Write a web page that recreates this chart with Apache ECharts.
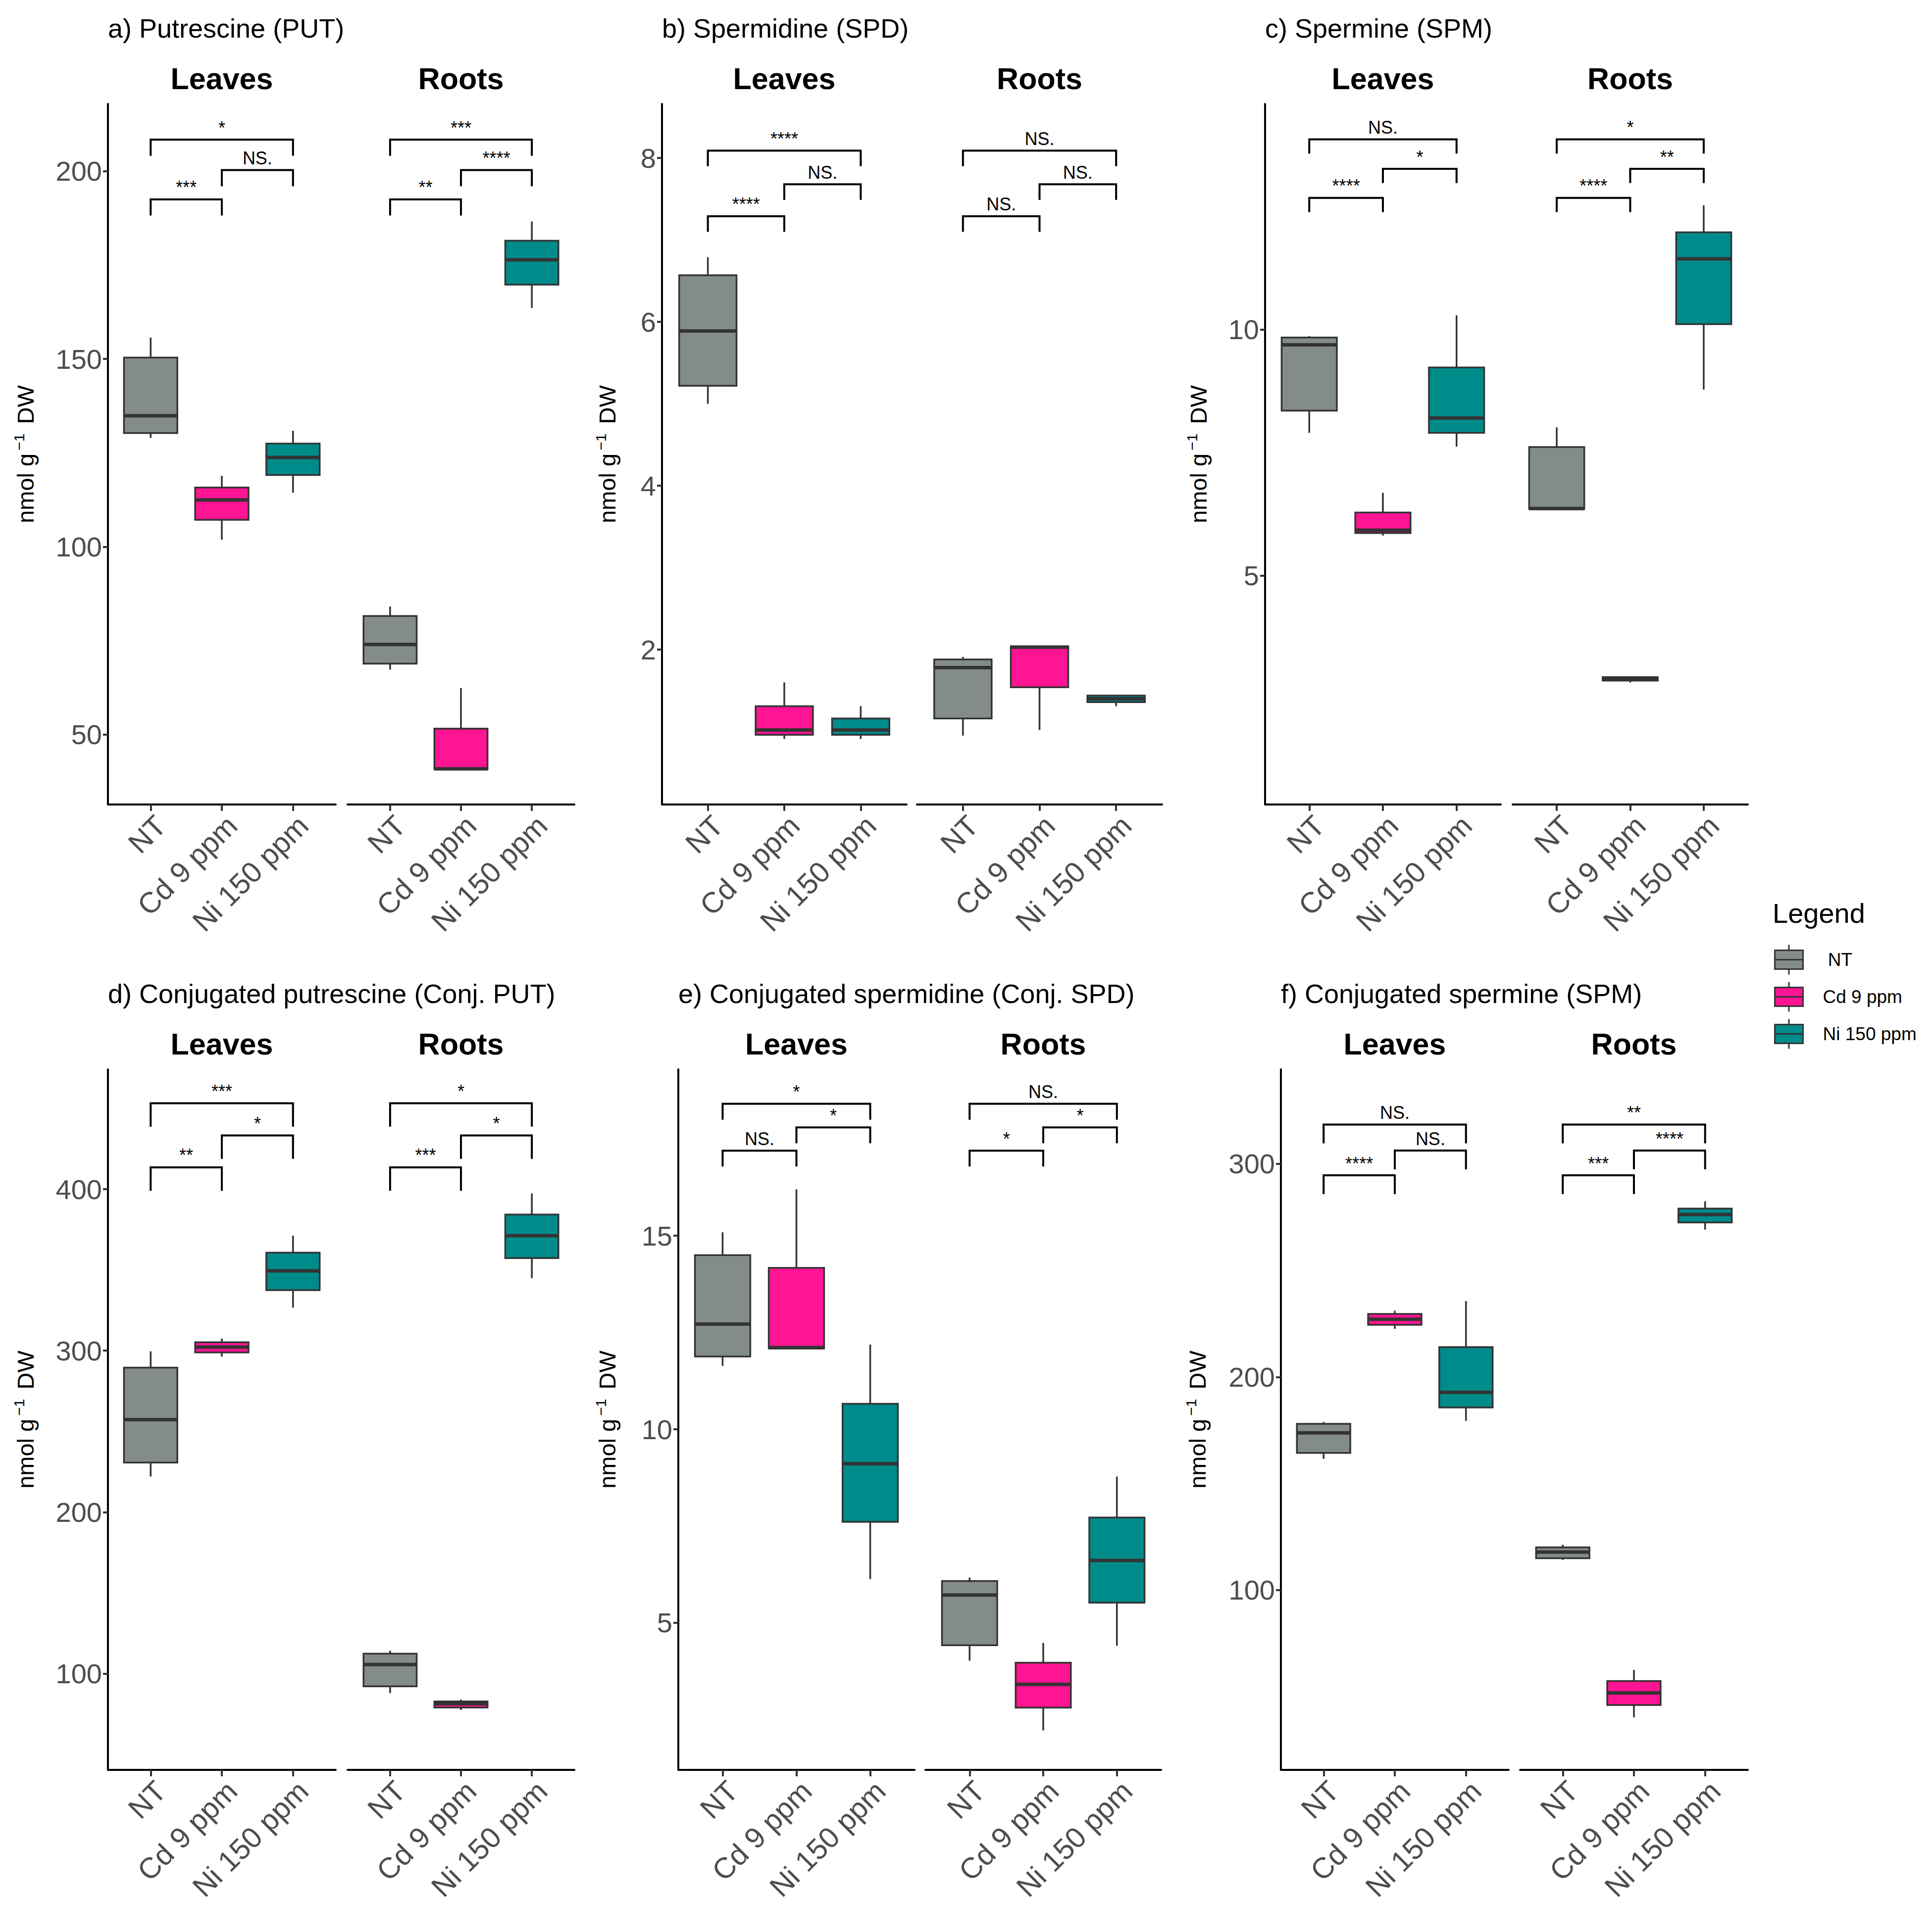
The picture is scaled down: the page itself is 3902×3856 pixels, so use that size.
<!DOCTYPE html>
<html><head><meta charset="utf-8">
<script src="https://cdn.jsdelivr.net/npm/echarts@6/dist/echarts.min.js"></script>
<style>html,body{margin:0;padding:0;background:#fff}#c{width:3902px;height:3856px}</style>
</head><body><div id="c"></div>
<script>
// ---------- DATA ----------
const treatments = ['NT', 'Cd 9 ppm', 'Ni 150 ppm'];
const tissues = ['Leaves', 'Roots'];
const treatmentColors = ['#838B8B', '#FF1493', '#008B8B'];
// five-number summaries [min, Q1, median, Q3, max] per treatment (NT, Cd, Ni)
const putLeaves  = [[129.0, 130.3, 134.9, 150.4, 155.7], [101.9, 107.2, 112.5, 115.8, 118.9], [114.4, 119.1, 123.8, 127.5, 130.9]];
const putRoots   = [[67.3, 68.9, 74.0, 81.6, 84.1], [40.8, 40.8, 40.9, 51.6, 62.4], [163.6, 169.8, 176.4, 181.5, 186.6]];
const spdLeaves  = [[5.00, 5.22, 5.89, 6.57, 6.79], [0.91, 0.96, 1.02, 1.31, 1.60], [0.91, 0.96, 1.02, 1.16, 1.31]];
const spdRoots   = [[0.95, 1.16, 1.78, 1.88, 1.91], [1.02, 1.54, 2.03, 2.04, 2.04], [1.31, 1.36, 1.40, 1.44, 1.45]];
const spmLeaves  = [[7.90, 8.35, 9.69, 9.84, 9.87], [5.81, 5.86, 5.92, 6.28, 6.68], [7.62, 7.90, 8.20, 9.23, 10.29]];
const spmRoots   = [[6.35, 6.35, 6.36, 7.61, 8.01], [2.82, 2.86, 2.90, 2.93, 2.95], [8.78, 10.11, 11.44, 11.98, 12.53]];
const cputLeaves = [[222.1, 230.7, 257.3, 289.5, 299.6], [296.3, 298.9, 302.2, 305.2, 307.5], [326.6, 337.5, 349.4, 360.7, 371.2]];
const cputRoots  = [[88.0, 92.1, 105.6, 112.4, 114.2], [77.5, 79.0, 81.3, 82.8, 83.9], [344.9, 357.3, 371.2, 384.3, 397.4]];
const cspdLeaves = [[11.64, 11.88, 12.72, 14.50, 15.09], [12.09, 12.09, 12.11, 14.17, 16.20], [6.13, 7.61, 9.11, 10.66, 12.19]];
const cspdRoots  = [[4.02, 4.42, 5.72, 6.08, 6.17], [2.22, 2.81, 3.41, 3.97, 4.48], [4.41, 5.52, 6.61, 7.72, 8.78]];
const cspmLeaves = [[161.6, 164.4, 173.8, 178.0, 178.9], [222.6, 224.5, 227.1, 229.6, 231.1], [179.4, 185.7, 192.8, 214.0, 235.6]];
const cspmRoots  = [[114.2, 115.0, 117.9, 120.1, 121.3], [40.4, 46.1, 51.8, 57.4, 62.6], [269.1, 272.5, 276.2, 279.0, 282.4]];

// y tick labels
const putTicks = [50, 100, 150, 200];
const spdTicks = [2, 4, 6, 8];
const spmTicks = [5, 10];
const cputTicks = [100, 200, 300, 400];
const cspdTicks = [5, 10, 15];
const cspmTicks = [100, 200, 300];

// significance brackets: pairs (NT–Cd, Cd–Ni, NT–Ni), labels and bracket heights
const pairs = [[1, 2], [2, 3], [1, 3]];
const putSigLeaves = ['***', 'NS.', '*'],   putSigRoots = ['**', '****', '***'];
const spdSigLeaves = ['****', 'NS.', '****'], spdSigRoots = ['NS.', 'NS.', 'NS.'];
const spmSigLeaves = ['****', '*', 'NS.'],  spmSigRoots = ['****', '**', '*'];
const cputSigLeaves = ['**', '*', '***'],   cputSigRoots = ['***', '*', '*'];
const cspdSigLeaves = ['NS.', '*', '*'],    cspdSigRoots = ['*', '*', 'NS.'];
const cspmSigLeaves = ['****', 'NS.', 'NS.'], cspmSigRoots = ['***', '****', '**'];
const putBracketY = [192.5, 200.3, 208.4],  putTip = 4.3;
const spdBracketY = [7.29, 7.68, 8.09],     spdTip = 0.19;
const spmBracketY = [12.68, 13.27, 13.87],  spmTip = 0.29;
const cputBracketY = [413.5, 433.3, 453.2], cputTip = 14.5;
const cspdBracketY = [17.2, 17.8, 18.41],   cspdTip = 0.41;
const cspmBracketY = [294.6, 306.2, 318.4], cspmTip = 8.8;

// ---------- LAYOUT ----------
const FONT = '"Liberation Sans", Arial, Helvetica, sans-serif';
const rowTop = [210, 2160], rowH = 1415;
const panels = [
  {title: 'a) Putrescine (PUT)', data: [putLeaves, putRoots], sig: [putSigLeaves, putSigRoots], by: putBracketY, tip: putTip, ticks: putTicks, yMin: 31.4, yMax: 217.9, row: 0, facets: [[218, 460], [702, 458]], nameGap: 139},
  {title: 'b) Spermidine (SPD)', data: [spdLeaves, spdRoots], sig: [spdSigLeaves, spdSigRoots], by: spdBracketY, tip: spdTip, ticks: spdTicks, yMin: 0.11, yMax: 8.66, row: 0, facets: [[1337, 494], [1852, 495]], nameGap: 83},
  {title: 'c) Spermine (SPM)', data: [spmLeaves, spmRoots], sig: [spmSigLeaves, spmSigRoots], by: spmBracketY, tip: spmTip, ticks: spmTicks, yMin: 0.34, yMax: 14.59, row: 0, facets: [[2555, 476], [3055, 475]], nameGap: 107},
  {title: 'd) Conjugated putrescine (Conj. PUT)', data: [cputLeaves, cputRoots], sig: [cputSigLeaves, cputSigRoots], by: cputBracketY, tip: cputTip, ticks: cputTicks, yMin: 40.4, yMax: 474.2, row: 1, facets: [[218, 460], [702, 458]], nameGap: 139},
  {title: 'e) Conjugated spermidine (Conj. SPD)', data: [cspdLeaves, cspdRoots], sig: [cspdSigLeaves, cspdSigRoots], by: cspdBracketY, tip: cspdTip, ticks: cspdTicks, yMin: 1.2, yMax: 19.3, row: 1, facets: [[1370, 477], [1869, 476]], nameGap: 116},
  {title: 'f) Conjugated spermine (SPM)', data: [cspmLeaves, cspmRoots], sig: [cspmSigLeaves, cspmSigRoots], by: cspmBracketY, tip: cspmTip, ticks: cspmTicks, yMin: 15.7, yMax: 344.3, row: 1, facets: [[2587, 460], [3070, 460]], nameGap: 141}
];

function renderBox(params, api) {
  const x = api.value(0), lo = api.value(1), q1 = api.value(2), med = api.value(3), q3 = api.value(4), hi = api.value(5);
  const hw = 0.375;
  const a = api.coord([x - hw, q3]), b = api.coord([x + hw, q1]);
  const pHi = api.coord([x, hi]), pQ3 = api.coord([x, q3]), pQ1 = api.coord([x, q1]), pLo = api.coord([x, lo]);
  const mL = api.coord([x - hw, med]), mR = api.coord([x + hw, med]);
  const stroke = '#333333';
  return {type: 'group', children: [
    {type: 'line', shape: {x1: pHi[0], y1: pHi[1], x2: pQ3[0], y2: pQ3[1]}, style: {stroke, lineWidth: 3.5}},
    {type: 'line', shape: {x1: pQ1[0], y1: pQ1[1], x2: pLo[0], y2: pLo[1]}, style: {stroke, lineWidth: 3.5}},
    {type: 'rect', shape: {x: a[0], y: a[1], width: b[0] - a[0], height: b[1] - a[1]}, style: {fill: api.visual('color'), stroke, lineWidth: 3.5}},
    {type: 'line', shape: {x1: mL[0], y1: mL[1], x2: mR[0], y2: mR[1]}, style: {stroke, lineWidth: 7}}
  ]};
}
function makeBracketRenderer(labels) {
  return function (params, api) {
    const x1 = api.value(0), x2 = api.value(1), y = api.value(2), tip = api.value(3);
    const p1 = api.coord([x1, y - tip]), p2 = api.coord([x1, y]), p3 = api.coord([x2, y]), p4 = api.coord([x2, y - tip]);
    const mid = api.coord([(x1 + x2) / 2, y]);
    return {type: 'group', children: [
      {type: 'polyline', shape: {points: [p1, p2, p3, p4]}, style: {stroke: '#000', lineWidth: 4, fill: null}},
      {type: 'text', x: mid[0], y: mid[1] - 6, style: {text: labels[params.dataIndex], fontSize: 36, fontFamily: FONT, fill: '#000', align: 'center', verticalAlign: 'bottom', textAlign: 'center', textVerticalAlign: 'bottom'}}
    ]};
  };
}

const grid = [], xAxis = [], yAxis = [], series = [], graphic = [];
let gi = 0;
panels.forEach(p => {
  const top = rowTop[p.row];
  graphic.push({type: 'text', x: p.facets[0][0], y: top - 153, style: {text: p.title, fontSize: 54, fontFamily: FONT, fill: '#000', align: 'left', verticalAlign: 'middle', textAlign: 'left', textVerticalAlign: 'middle'}});
  p.facets.forEach((f, fi) => {
    grid.push({left: f[0], top: top, width: f[1], height: rowH, containLabel: false});
    graphic.push({type: 'text', x: f[0] + f[1] / 2, y: top - 51, style: {text: tissues[fi], fontSize: 61, fontWeight: 'bold', fontFamily: FONT, fill: '#000', align: 'center', verticalAlign: 'middle', textAlign: 'center', textVerticalAlign: 'middle'}});
    xAxis.push({
      type: 'value', gridIndex: gi, min: 0.4, max: 3.6,
      axisLine: {show: true, onZero: false, lineStyle: {color: '#000', width: 4}},
      axisTick: {show: true, customValues: [1, 2, 3], length: 13, lineStyle: {color: '#333', width: 4}},
      axisLabel: {show: true, customValues: [1, 2, 3], formatter: v => treatments[Math.round(v) - 1], rotate: 45, align: 'right', verticalAlign: 'top', fontSize: 59, color: '#4D4D4D', margin: 12, fontFamily: FONT},
      splitLine: {show: false}
    });
    yAxis.push({
      type: 'value', gridIndex: gi, min: p.yMin, max: p.yMax, show: fi === 0,
      axisLine: {show: true, onZero: false, lineStyle: {color: '#000', width: 4}},
      axisTick: {show: true, customValues: p.ticks, length: 10, lineStyle: {color: '#333', width: 4}},
      axisLabel: {show: true, customValues: p.ticks, fontSize: 56, color: '#4D4D4D', margin: 12, fontFamily: FONT},
      splitLine: {show: false},
      name: fi === 0 ? '{n|nmol g}{s|−1}{n| DW}' : '',
      nameLocation: 'middle', nameRotate: 90, nameGap: p.nameGap,
      nameTextStyle: {color: '#000', fontFamily: FONT, fontSize: 47, rich: {
        n: {fontSize: 47, color: '#000', fontFamily: FONT, lineHeight: 56},
        s: {fontSize: 30, color: '#000', fontFamily: FONT, verticalAlign: 'top', lineHeight: 56, padding: [0, 6, 0, 6]}
      }}
    });
    p.data[fi].forEach((stats, t) => {
      series.push({
        type: 'custom', name: treatments[t], xAxisIndex: gi, yAxisIndex: gi,
        itemStyle: {color: treatmentColors[t]},
        encode: {x: 0, y: [1, 2, 3, 4, 5]},
        data: [[t + 1].concat(stats)],
        renderItem: renderBox, z: 2
      });
    });
    series.push({
      type: 'custom', name: 'significance', xAxisIndex: gi, yAxisIndex: gi, silent: true,
      encode: {x: [0, 1], y: 2},
      data: pairs.map((pr, i) => [pr[0], pr[1], p.by[i], p.tip]),
      renderItem: makeBracketRenderer(p.sig[fi]), z: 3
    });
    gi++;
  });
});
graphic.push({type: 'text', x: 3580, y: 1844, style: {text: 'Legend', fontSize: 56, fontFamily: FONT, fill: '#000', align: 'left', verticalAlign: 'middle', textAlign: 'left', textVerticalAlign: 'middle'}});

const boxIcon = 'path://M28.5,0L28.5,11M0,11L57,11L57,49L0,49ZM0,30L57,30M28.5,49L28.5,60';
const option = {
  backgroundColor: '#fff',
  animation: false,
  textStyle: {fontFamily: FONT},
  grid, xAxis, yAxis, series, graphic,
  legend: {
    data: treatments.map(n => ({name: n, icon: boxIcon})),
    orient: 'vertical', left: 3583, top: 1907, padding: 0,
    itemWidth: 57, itemHeight: 60, itemGap: 12, selectedMode: false,
    itemStyle: {borderColor: '#333', borderWidth: 3},
    formatter: n => (n === 'NT' ? ' NT' : n),
    textStyle: {fontSize: 37, color: '#000', fontFamily: FONT, padding: [0, 0, 0, 35]}
  }
};
const chart = echarts.init(document.getElementById('c'), null, {renderer: 'svg', width: 3902, height: 3856});
chart.setOption(option);
</script></body></html>
